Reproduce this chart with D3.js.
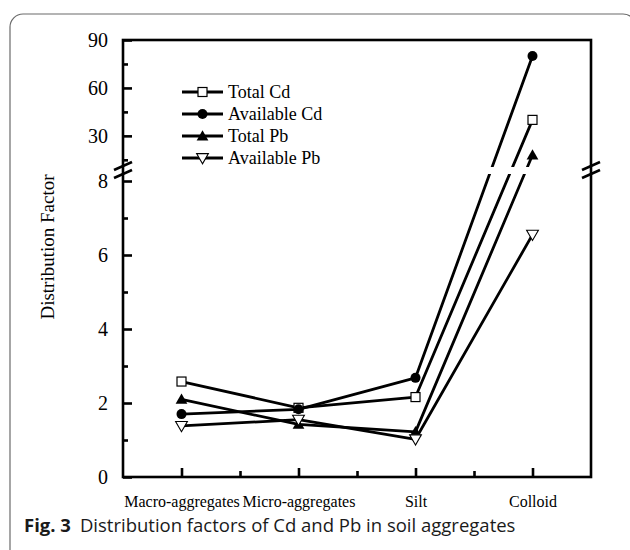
<!DOCTYPE html>
<html>
<head>
<meta charset="utf-8">
<script src="https://cdn.jsdelivr.net/npm/d3@7"></script>
<style>
  html, body { margin: 0; padding: 0; background: #fff; }
  svg { display: block; }
</style>
</head>
<body>
<svg id="chart" width="630" height="550"></svg>
<script>
// ---- data ----
const categories = ["Macro-aggregates", "Micro-aggregates", "Silt", "Colloid"];
const totalCd     = [2.58, 1.87, 2.16, 40];
const availableCd = [1.70, 1.83, 2.68, 80];
const totalPb     = [2.10, 1.42, 1.22, 18];
const availablePb = [1.38, 1.55, 1.02, 6.55];
const seriesNames = ["Total Cd", "Available Cd", "Total Pb", "Available Pb"];
const lowerTicks = [0, 2, 4, 6, 8];
const lowerMinor = [1, 3, 5, 7];
const upperTicks = [30, 60, 90];
const upperMinor = [15, 45, 75];

const series = [
  { name: seriesNames[0], values: totalCd, marker: "square" },
  { name: seriesNames[1], values: availableCd, marker: "circle" },
  { name: seriesNames[2], values: totalPb, marker: "up" },
  { name: seriesNames[3], values: availablePb, marker: "down" }
];

const svg = d3.select("#chart");
const serif = "'Liberation Serif', 'Times New Roman', serif";

// outer rounded frame
svg.append("rect")
  .attr("x", 10).attr("y", 14).attr("width", 626).attr("height", 600)
  .attr("rx", 13).attr("fill", "none").attr("stroke", "#6b6b6b").attr("stroke-width", 1.2);

// plot geometry
const L = 123, R = 591, T = 40, B = 477;
const x = d3.scaleLinear().domain([0.5, 4.5]).range([L, R]);
const yLow = d3.scaleLinear().domain([0, 8]).range([B, 181]);
const yUp = d3.scaleLinear().domain([8, 90]).range([171, T]);
const y = v => (v <= 8 ? yLow(v) : yUp(v));
const gapTop = 167, gapBot = 174;

// clip to exclude break gap
const defs = svg.append("defs");
const cp = defs.append("clipPath").attr("id", "gapclip");
cp.append("rect").attr("x", 0).attr("y", 0).attr("width", 630).attr("height", gapTop);
cp.append("rect").attr("x", 0).attr("y", gapBot).attr("width", 630).attr("height", 550 - gapBot);

// lines
const line = d3.line().x((d, i) => x(i + 1)).y(d => y(d));
const lines = svg.append("g").attr("clip-path", "url(#gapclip)");
series.forEach(s => {
  lines.append("path").datum(s.values).attr("d", line)
    .attr("fill", "none").attr("stroke", "#000").attr("stroke-width", 2.8)
    .attr("stroke-linejoin", "round");
});

function drawMarker(g, type, cx, cy) {
  if (type === "square") {
    g.append("rect").attr("x", cx - 4.5).attr("y", cy - 4.5).attr("width", 9).attr("height", 9)
      .attr("fill", "#fff").attr("stroke", "#000").attr("stroke-width", 1.2);
  } else if (type === "circle") {
    g.append("circle").attr("cx", cx).attr("cy", cy).attr("r", 5).attr("fill", "#000");
  } else if (type === "up") {
    g.append("path").attr("d", d3.symbol(d3.symbolTriangle, 60)())
      .attr("transform", `translate(${cx},${cy + 1})`).attr("fill", "#000");
  } else {
    g.append("path").attr("d", d3.symbol(d3.symbolTriangle, 60)())
      .attr("transform", `translate(${cx},${cy - 1}) rotate(180)`)
      .attr("fill", "#fff").attr("stroke", "#000").attr("stroke-width", 1.1);
  }
}

const marks = svg.append("g");
series.forEach(s => {
  s.values.forEach((v, i) => drawMarker(marks, s.marker, x(i + 1), y(v)));
});

// axes frame
svg.append("rect").attr("x", L).attr("y", T).attr("width", R - L).attr("height", B - T)
  .attr("fill", "none").attr("stroke", "#000").attr("stroke-width", 2.6);

// left axis - lower
const tickFont = g => g.selectAll("text").attr("font-family", serif).attr("font-size", 20).attr("fill", "#000");
const axLowMajor = svg.append("g").attr("transform", `translate(${L},0)`)
  .call(d3.axisLeft(yLow).tickValues(lowerTicks).tickSize(-9).tickPadding(15).tickFormat(d3.format("d")));
axLowMajor.select(".domain").remove();
axLowMajor.selectAll("line").attr("stroke-width", 2.6);
tickFont(axLowMajor);
const axLowMinor = svg.append("g").attr("transform", `translate(${L},0)`)
  .call(d3.axisLeft(yLow).tickValues(lowerMinor).tickSize(-5).tickFormat(""));
axLowMinor.select(".domain").remove();
axLowMinor.selectAll("line").attr("stroke-width", 2.6);

// left axis - upper
const axUpMajor = svg.append("g").attr("transform", `translate(${L},0)`)
  .call(d3.axisLeft(yUp).tickValues(upperTicks).tickSize(-9).tickPadding(15).tickFormat(d3.format("d")));
axUpMajor.select(".domain").remove();
axUpMajor.selectAll("line").attr("stroke-width", 2.6);
tickFont(axUpMajor);
const axUpMinor = svg.append("g").attr("transform", `translate(${L},0)`)
  .call(d3.axisLeft(yUp).tickValues(upperMinor).tickSize(-5).tickFormat(""));
axUpMinor.select(".domain").remove();
axUpMinor.selectAll("line").attr("stroke-width", 2.6);

// bottom axis
const axX = svg.append("g").attr("transform", `translate(0,${B})`)
  .call(d3.axisBottom(x).tickValues([1, 2, 3, 4]).tickSize(-9).tickPadding(19)
    .tickFormat(d => categories[d - 1]));
axX.select(".domain").remove();
axX.selectAll("line").attr("stroke-width", 2.6);
axX.selectAll("text").attr("font-family", serif).attr("font-size", 16).attr("fill", "#000");
const axXMinor = svg.append("g").attr("transform", `translate(0,${B})`)
  .call(d3.axisBottom(x).tickValues([1.5, 2.5, 3.5]).tickSize(-6).tickFormat(""));
axXMinor.select(".domain").remove();
axXMinor.selectAll("line").attr("stroke-width", 2.6);

// break marks
[L, R].forEach(cx => {
  [166, 174].forEach(cy => {
    svg.append("line").attr("x1", cx - 9).attr("y1", cy + 4).attr("x2", cx + 9).attr("y2", cy - 4)
      .attr("stroke", "#000").attr("stroke-width", 2.6);
  });
});

// y title
svg.append("text")
  .attr("transform", "translate(54,247) rotate(-90)")
  .attr("text-anchor", "middle")
  .attr("font-family", serif).attr("font-size", 19).attr("fill", "#000")
  .text("Distribution Factor");

// legend
const legX1 = 182, legX2 = 223, legRows = [92, 114, 136, 158];
series.forEach((s, i) => {
  const ly = legRows[i];
  svg.append("line").attr("x1", legX1).attr("x2", legX2).attr("y1", ly).attr("y2", ly)
    .attr("stroke", "#000").attr("stroke-width", 2.8);
  drawMarker(svg, s.marker, (legX1 + legX2) / 2, ly);
  svg.append("text").attr("x", 228).attr("y", ly).attr("dy", "0.33em")
    .attr("font-family", serif).attr("font-size", 18).attr("fill", "#000").text(s.name);
});

// caption
const cap = svg.append("text").attr("x", 24).attr("y", 532)
  .attr("font-family", "'Open Sans', 'Noto Sans', sans-serif").attr("font-size", 18.5).attr("fill", "#1a1a1a");
cap.append("tspan").attr("font-weight", "bold").text("Fig. 3");
cap.append("tspan").attr("dx", 9).text("Distribution factors of Cd and Pb in soil aggregates");
</script>
</body>
</html>
